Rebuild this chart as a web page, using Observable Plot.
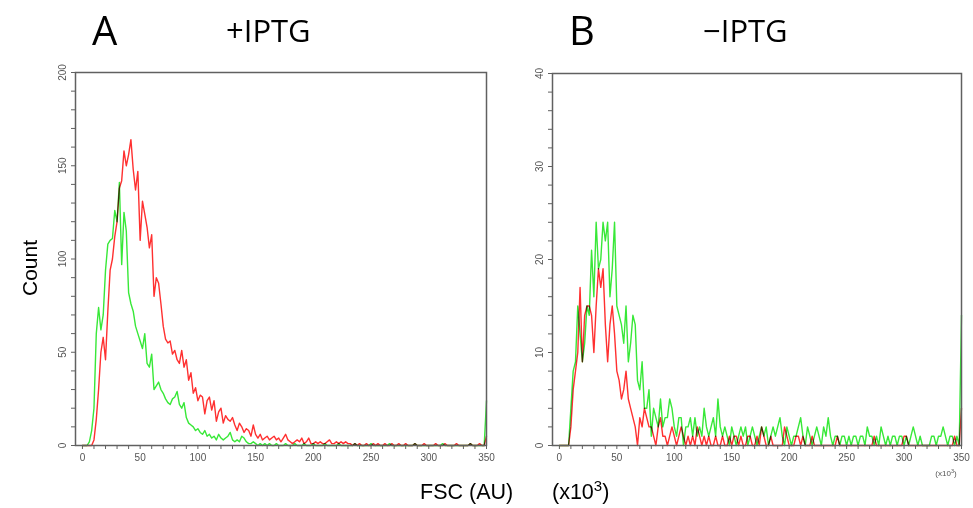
<!DOCTYPE html>
<html><head><meta charset="utf-8">
<script src="https://cdn.jsdelivr.net/npm/d3@7"></script>
<script src="https://cdn.jsdelivr.net/npm/@observablehq/plot@0.6"></script>
<style>
body{margin:0;background:#fff;}
#wrap{position:relative;width:973px;height:508px;overflow:hidden;}
#wrap > svg{position:absolute;top:0;}
</style></head><body><div id="wrap"></div>
<script>
// FSC channel (x10^3), one bin every 2 units from 0 to 350
const binStart = 0, binStep = 2;

// Panel A (+IPTG) counts
const redA = [
 0,0,0,0,0,3,14,30,50,58,
 46,72,94,100,112,120,138,142,158,150,
 156,164,148,137,147,110,131,124,117,106,
 113,80,90,87,76,64,57,55,56,49,
 51,46,44,51,42,46,35,39,28,31,
 24,27,26,17,24,26,19,24,13,18,
 20,12,16,14,13,15,11,8,12,10,
 7,9,8,5,11,6,4,6,3,4,
 5,3,4,5,3,4,2,4,6,3,
 2,1,2,3,2,4,1,2,4,1,
 1,2,1,2,1,1,2,3,1,1,
 2,1,2,1,2,1,1,0,1,0,
 1,0,0,1,0,0,1,0,1,0,
 0,1,0,0,1,0,0,1,0,0,
 1,0,0,0,1,0,0,0,1,0,
 0,0,0,1,0,0,0,1,0,0,
 0,0,1,0,0,0,0,0,1,0,
 0,0,1,0,0,
 5];
const greenA = [
 0,0,0,2,8,20,60,74,62,70,
 94,108,110,111,126,120,141,97,125,115,
 82,76,72,64,60,56,52,60,44,42,
 49,30,32,34,30,28,25,23,22,25,
 26,29,22,20,23,15,12,11,10,8,
 9,7,6,8,5,6,4,5,3,6,
 4,3,4,5,7,3,2,3,2,5,
 4,2,1,1,2,1,0,1,0,1,
 0,1,0,0,1,0,0,0,1,0,
 0,0,1,0,0,0,1,0,0,0,
 1,0,0,0,0,1,0,0,0,0,
 0,1,0,0,0,0,0,0,1,0,
 0,0,0,0,0,1,0,0,0,0,
 0,0,0,1,0,0,0,0,0,0,
 0,0,0,0,1,0,0,0,0,0,
 0,0,0,0,0,0,1,0,0,0,
 0,0,0,0,0,0,0,0,1,0,
 0,0,0,0,0,
 24];

// Panel B (−IPTG) counts
const redB = [
 0,0,0,0,0,2,6,8,10,17,
 9,14,15,15,14,10,15,19,17,19,
 13,9,13,15,12,8,7,5,6,8,
 5,4,3,2,0,3,2,4,3,2,
 2,1,0,2,3,1,1,0,1,2,
 1,0,1,2,1,0,1,0,1,0,
 2,1,0,1,0,1,0,0,1,0,
 0,1,0,0,1,0,1,1,0,1,
 0,0,1,1,0,0,1,0,2,1,
 0,0,1,0,0,0,0,0,2,1,
 0,0,0,1,1,0,1,0,0,0,
 1,0,0,0,0,0,0,0,0,0,
 0,1,0,0,0,0,0,0,0,0,
 0,0,0,0,0,0,0,1,0,0,
 0,0,0,0,0,0,0,0,0,0,
 1,1,0,0,0,0,0,0,0,0,
 0,0,0,0,0,0,0,0,0,0,
 0,0,1,0,0,
 4];
const greenB = [
 0,0,0,0,0,4,8,9,15,12,
 9,11,15,14,21,16,24,19,20,24,
 22,24,16,19,24,15,14,13,11,15,
 9,11,14,13,7,6,9,4,4,6,
 1,4,3,2,5,2,3,3,5,4,
 2,1,3,3,0,2,2,3,1,3,
 1,2,1,4,2,1,2,3,1,5,
 2,1,2,1,0,2,1,0,1,2,
 1,2,0,1,2,1,0,1,2,1,
 2,0,1,2,1,2,3,1,0,2,
 1,0,1,1,2,3,1,0,2,1,
 0,1,2,1,0,2,1,3,1,0,
 1,1,0,1,1,0,1,0,1,1,
 0,1,1,0,2,1,1,0,1,0,
 2,1,0,1,0,1,1,0,1,1,
 0,1,0,1,2,1,0,1,0,0,
 0,0,1,1,0,1,1,2,1,0,
 1,1,0,1,0,
 14];

const xTicks = [0,10,20,30,40,50,60,70,80,90,100,110,120,130,140,150,160,170,180,190,200,210,220,230,240,250,260,270,280,290,300,310,320,330,340,350];
const xTickLabels = [0,50,100,150,200,250,300,350];
const yTicksA = [0,10,20,30,40,50,60,70,80,90,100,110,120,130,140,150,160,170,180,190,200];
const yLabelsA = [0,50,100,150,200];
const yTicksB = [0,2,4,6,8,10,12,14,16,18,20,22,24,26,28,30,32,34,36,38,40];
const yLabelsB = [0,10,20,30,40];

const RED = "#ff3030", GREEN = "#38e838", AX = "#606060";

function toRows(vals){ return vals.map((c,i)=>({x: binStart + i*binStep, c})); }

function panel({red, green, yMax, yTicks, yLabels, width, mL, mR, mT, mB, left}){
  const xMin = -6;
  const p = Plot.plot({
    width, height: 508,
    marginLeft: mL, marginRight: mR, marginTop: mT, marginBottom: mB,
    x: {domain: [xMin, 350]},
    y: {domain: [0, yMax]},
    style: {color: "#555", fontFamily: "'Liberation Sans', Arial, sans-serif", fontSize: "10px", background: "transparent"},
    marks: [
      Plot.axisY({ticks: yTicks, tickSize: 4, tickFormat: () => "", stroke: AX, label: null}),
      Plot.text(yLabels, {x: xMin, y: d => d, text: d => String(d), rotate: -90, dx: -13, fontSize: 10, fill: "#555"}),
      Plot.axisX({ticks: xTicks, tickSize: 4, tickPadding: 4, tickFormat: d => xTickLabels.includes(d) ? String(d) : "", stroke: AX, label: null, fontSize: 10}),
      Plot.line(toRows(green), {x: "x", y: "c", stroke: GREEN, strokeWidth: 1.4}),
      Plot.line(toRows(red), {x: "x", y: "c", stroke: RED, strokeWidth: 1.4, mixBlendMode: "multiply"}),
      Plot.frame({stroke: AX, strokeWidth: 1.5})
    ]
  });
  p.style.left = left + "px";
  return p;
}

const wrap = document.getElementById("wrap");
wrap.appendChild(panel({red: redA, green: greenA, yMax: 200, yTicks: yTicksA, yLabels: yLabelsA,
  width: 500, mL: 75, mR: 14, mT: 72, mB: 63, left: 0}));
wrap.appendChild(panel({red: redB, green: greenB, yMax: 40, yTicks: yTicksB, yLabels: yLabelsB,
  width: 493, mL: 72, mR: 12, mT: 73, mB: 63, left: 480}));

// Text overlay
const svg = d3.select(wrap).append("svg").attr("width", 973).attr("height", 508)
  .style("left", "0px").style("pointer-events", "none");
const T = (x, y, s, size, fam, extra) => {
  const t = svg.append("text").attr("x", x).attr("y", y).text(s)
    .attr("font-size", size).attr("font-family", fam).attr("fill", "#000");
  if (extra) extra(t);
  return t;
};
const TITLE = "'Open Sans', 'Noto Sans', sans-serif";
const BODY = "'Liberation Sans', Arial, sans-serif";
T(92, 45, "A", 40, TITLE);
T(226, 42, "+IPTG", 31, TITLE);
T(569, 45, "B", 40, TITLE);
T(703, 42, "\u2212IPTG", 31, TITLE);
T(0, 0, "Count", 21, BODY, t => t.attr("text-anchor", "middle").attr("transform", "translate(37,268) rotate(-90)"));
T(420, 499, "FSC (AU)", 21.5, BODY);
const f = T(552, 499, "", 21.5, BODY);
f.append("tspan").text("(x10");
f.append("tspan").attr("font-size", 15).attr("dy", -8).text("3");
f.append("tspan").attr("dy", 8).text(")");
const s = T(946, 476, "", 8, BODY, t => t.attr("text-anchor", "middle").attr("fill", "#555"));
s.append("tspan").text("(x10");
s.append("tspan").attr("font-size", 5.5).attr("dy", -3).text("3");
s.append("tspan").attr("dy", 3).text(")");
</script></body></html>
